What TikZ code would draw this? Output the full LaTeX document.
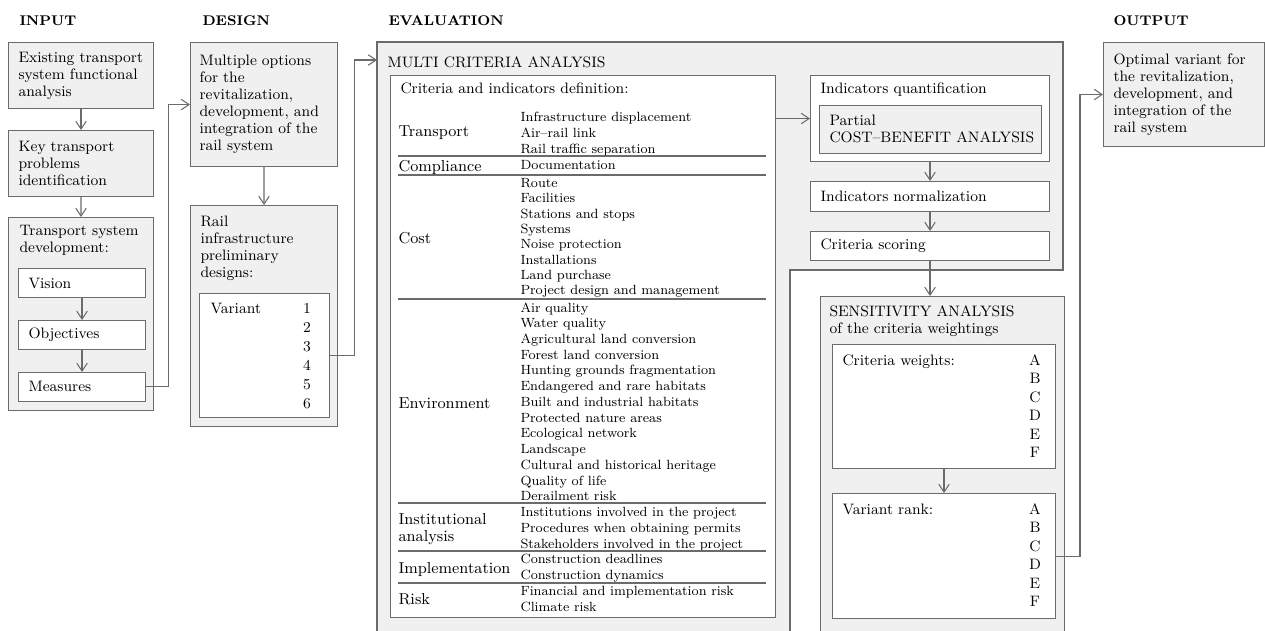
\documentclass[tikz,border=0pt]{standalone}
\usepackage{tikz}
\usetikzlibrary{arrows.meta}

\definecolor{boxgray}{gray}{0.94}
\definecolor{linegray}{gray}{0.42}

\begin{document}
\begin{tikzpicture}[x=0.02cm,y=-0.02cm,line width=0.6pt,color=linegray,text=black,
    >={Straight Barb[length=4.5pt,width=6pt]},
    gbox/.style={draw,fill=boxgray,anchor=north west,inner xsep=0.2cm,align=left,font=\fontsize{8.6}{9.7}\selectfont},
    wbox/.style={gbox,fill=white},
    txt/.style={anchor=north west,inner sep=0pt,align=left,font=\fontsize{8.6}{9.7}\selectfont},
    cat/.style={txt,font=\fontsize{9}{9.7}\selectfont},
    item/.style={txt,font=\fontsize{7.6}{8.95}\selectfont},
    head/.style={txt,font=\bfseries\fontsize{8}{9.7}\selectfont}]
      \useasboundingbox (0,0) rectangle (1265,630);

      % column titles
      \node[head] (hin) at (19,15) {INPUT};
      \node[head] (hdes) at (202,15) {DESIGN};
      \node[head] (heval) at (388,15) {EVALUATION};
      \node[head] (hout) at (1113,15) {OUTPUT};

      % input
      \node[gbox,text width=2.5cm,minimum height=1.32cm] (in1) at (8,42) {Existing transport\\system functional\\analysis};
      \node[gbox,text width=2.5cm,minimum height=1.32cm] (in2) at (8,130) {Key transport\\problems\\identification};
      \node[gbox,minimum width=2.9cm,minimum height=3.86cm] (in3) at (8,217) {};
      \node[txt] (in3t) at (19,225) {Transport system\\development:};
      \node[wbox,text width=2.14cm,minimum height=0.58cm] (vis) at (18,268) {Vision};
      \node[wbox,text width=2.14cm,minimum height=0.57cm] (obj) at (18,320) {Objectives};
      \node[wbox,text width=2.14cm,minimum height=0.57cm] (meas) at (18,372) {Measures};

      % design
      \node[gbox,inner xsep=0.18cm,text width=2.58cm,minimum height=2.48cm] (d1) at (190,42) {Multiple options\\for the\\revitalization,\\development, and\\integration of the\\rail system};
      \node[gbox,minimum width=2.94cm,minimum height=4.42cm] (d2) at (190,205) {};
      \node[txt] (d2t) at (200,215) {Rail\\infrastructure\\preliminary\\designs:};
      \node[wbox,minimum width=2.6cm,minimum height=2.48cm] (var) at (199,293) {};
      \node[txt] (vart) at (210,303) {Variant};
      \node[txt,anchor=north,align=center,font=\fontsize{8.6}{10.8}\selectfont] (varn) at (307,303) {1\\2\\3\\4\\5\\6};

      % evaluation
      \filldraw[fill=boxgray] (377,632) -- (377,42) -- (1063,42) -- (1063,270) -- (790,270) -- (790,632);
      \coordinate (mca) at (377,60);
      \node[txt] (mcat) at (387,56) {MULTI CRITERIA ANALYSIS};
      \node[wbox,minimum width=7.7cm,minimum height=10.84cm] (crit) at (390,75) {};
      \node[txt] (critt) at (400,82) {Criteria and indicators definition:};

      \node[cat] (ctr) at (398,125) {Transport};
      \node[cat] (ccomp) at (398,160) {Compliance};
      \node[cat] (ccost) at (398,232) {Cost};
      \node[cat] (cenv) at (398,397) {Environment};
      \node[cat] (cinst) at (398,513) {Institutional\\analysis};
      \node[cat] (cimpl) at (398,562) {Implementation};
      \node[cat] (crisk) at (398,593) {Risk};

      \node[item] (itr) at (520,112) {Infrastructure displacement\\Air--rail link\\Rail traffic separation};
      \node[item] (icomp) at (520,160) {Documentation};
      \node[item,font=\fontsize{7.6}{8.7}\selectfont] (icost) at (520,178) {Route\\Facilities\\Stations and stops\\Systems\\Noise protection\\Installations\\Land purchase\\Project design and management};
      \node[item] (ienv) at (520,302) {Air quality\\Water quality\\Agricultural land conversion\\Forest land conversion\\Hunting grounds fragmentation\\Endangered and rare habitats\\Built and industrial habitats\\Protected nature areas\\Ecological network\\Landscape\\Cultural and historical heritage\\Quality of life\\Derailment risk};
      \node[item] (iinst) at (520,507) {Institutions involved in the project\\Procedures when obtaining permits\\Stakeholders involved in the project};
      \node[item] (iimpl) at (520,554) {Construction deadlines\\Construction dynamics};
      \node[item] (irisk) at (520,586) {Financial and implementation risk\\Climate risk};

      \draw (398,156) -- (766,156) (398,175) -- (766,175) (398,299) -- (766,299)
            (398,503) -- (766,503) (398,551) -- (766,551) (398,583) -- (766,583);

      \node[wbox,minimum width=4.78cm,minimum height=1.72cm] (quant) at (810,75) {};
      \node[txt] (quantt) at (820,82) {Indicators quantification};
      \node[gbox,minimum width=4.44cm,minimum height=0.96cm] (cba) at (819,105) {};
      \node[txt] (cbat) at (829,114) {Partial\\COST--BENEFIT ANALYSIS};
      \node[wbox,text width=4.38cm,minimum height=0.6cm] (norm) at (810,181) {Indicators normalization};
      \node[wbox,text width=4.38cm,minimum height=0.58cm] (score) at (810,231) {Criteria scoring};

      \node[gbox,minimum width=4.88cm,minimum height=6.9cm] (sens) at (820,296) {};
      \node[txt] (senst) at (829,305) {SENSITIVITY ANALYSIS\\of the criteria weightings};
      \node[wbox,minimum width=4.46cm,minimum height=2.48cm] (wts) at (832,344) {};
      \node[txt] (wtst) at (842,354) {Criteria weights:};
      \node[txt,anchor=north,align=center,font=\fontsize{8.6}{10.5}\selectfont] (wtsl) at (1035,354) {A\\B\\C\\D\\E\\F};
      \node[wbox,minimum width=4.46cm,minimum height=2.5cm] (rank) at (832,493) {};
      \node[txt] (rankt) at (842,503) {Variant rank:};
      \node[txt,anchor=north,align=center,font=\fontsize{8.6}{10.5}\selectfont] (rankl) at (1035,503) {A\\B\\C\\D\\E\\F};

      % output
      \node[gbox,text width=2.82cm,minimum height=2.08cm] (out) at (1103,42) {Optimal variant for\\the revitalization,\\development, and\\integration of the\\rail system};

      \draw[->] (in1) -- (in2);
      \draw[->] (in2) -- (in3);
      \draw[->] (vis) -- (obj);
      \draw[->] (obj) -- (meas);
      \draw[->] (meas.east) -- ++(22,0) |- (d1.west);
      \draw[->] (d1) -- (d2);
      \draw[->] (var.east) -- ++(24,0) |- (mca);
      \draw[->] (crit.east |- quant.west) -- (quant.west);
      \draw[->] (quant) -- (norm);
      \draw[->] (norm) -- (score);
      \draw[->] (score.south) -- (score.south |- sens.north);
      \draw[->] (wts) -- (rank);
      \draw[->] (rank.east) -- ++(24,0) |- (out.west);
    \end{tikzpicture}
\end{document}
